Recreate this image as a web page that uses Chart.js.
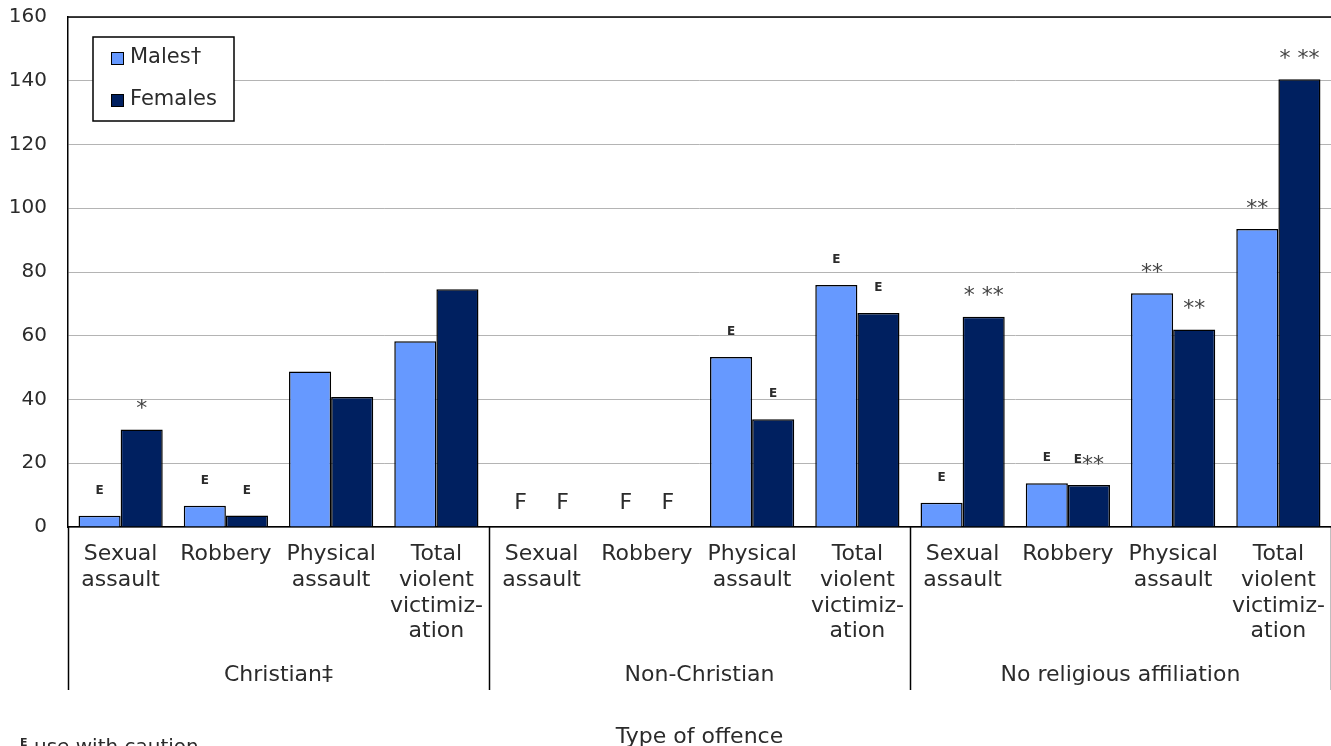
<!DOCTYPE html>
<html>
<head>
<meta charset="utf-8">
<script src="https://cdn.jsdelivr.net/npm/chart.js@4/dist/chart.umd.min.js"></script>
<style>
  body { margin: 0; background: #fff; }
  #wrap { width: 1331px; height: 746px; position: relative; }
</style>
</head>
<body>
<div id="wrap"><canvas id="myChart"></canvas></div>
<script>
// offence types repeat inside each religion group
var offenceTypes = [['Sexual', 'assault'], ['Robbery'], ['Physical', 'assault'], ['Total', 'violent', 'victimiz-', 'ation']];
var groups = ['Christian‡', 'Non-Christian', 'No religious affiliation'];

// rate per 1,000 population (F = too unreliable to be published)
var males   = [3.5, 6.7, 48.8, 58.3, null, null, 53.3, 75.9, 7.6, 13.7, 73.3, 93.5];
var females = [30.6, 3.6, 40.8, 74.6, null, null, 33.8, 67.1, 66.0, 13.2, 62.0, 140.5];

var malesNotes   = ['E', 'E', '', '', 'F', 'F', 'E', 'E', 'E', 'E', '**', '**'];
var femalesNotes = ['*', 'E', '', '', 'F', 'F', 'E', 'E', '* **', 'E**', '**', '* **'];

var yTicks = [0, 20, 40, 60, 80, 100, 120, 140, 160];

var labels = [];
groups.forEach(function (g) {
    offenceTypes.forEach(function (t) { labels.push(t); });
});

var FONT = 'DejaVu Sans';
var textColor = '#2b2b2b';

function drawNote(ctx, text, cx, cy) {
    // split into runs: small E, big F / asterisks / spaces
    var pieces = [];
    for (var i = 0; i < text.length; i++) {
        var ch = text[i];
        var font = ch === 'E' ? 'bold 12px ' + FONT : '22px ' + FONT;
        ctx.font = font;
        pieces.push({ ch: ch, font: font, w: ctx.measureText(ch).width });
    }
    var total = pieces.reduce(function (s, p) { return s + p.w; }, 0);
    var x = cx - total / 2;
    ctx.textAlign = 'left';
    ctx.textBaseline = 'middle';
    pieces.forEach(function (p) {
        ctx.font = p.font;
        ctx.fillStyle = p.ch === '*' ? '#444' : textColor;
        var dy = p.ch === '*' ? 5 : 0;
        ctx.fillText(p.ch, x, cy + dy);
        x += p.w;
    });
}

var extras = {
    id: 'extras',
    afterDatasetsDraw: function (chart) {
        var ctx = chart.ctx;
        var yScale = chart.scales.y;
        var base = yScale.getPixelForValue(0);
        var notes = [malesNotes, femalesNotes];
        ctx.save();
        chart.data.datasets.forEach(function (ds, di) {
            var meta = chart.getDatasetMeta(di);
            meta.data.forEach(function (bar, i) {
                var t = notes[di][i];
                if (!t) return;
                var v = ds.data[i];
                var top = (v === null) ? base : yScale.getPixelForValue(v);
                drawNote(ctx, t, bar.x, top - (v === null ? 24 : 25));
            });
        });
        ctx.restore();
    },
    afterDraw: function (chart) {
        var ctx = chart.ctx;
        var area = chart.chartArea;
        var xScale = chart.scales.x;
        var step = xScale.getPixelForValue(1) - xScale.getPixelForValue(0);
        ctx.save();

        // top border of plot
        ctx.strokeStyle = '#000';
        ctx.lineWidth = 1.5;
        ctx.beginPath();
        ctx.moveTo(area.left, area.top);
        ctx.lineTo(area.right, area.top);
        ctx.stroke();

        // group dividers and group labels
        var n = offenceTypes.length;
        ctx.font = '22px ' + FONT;
        ctx.fillStyle = textColor;
        ctx.textAlign = 'center';
        ctx.textBaseline = 'middle';
        for (var g = 0; g <= groups.length; g++) {
            var idx = g * n;
            var xl = xScale.getPixelForValue(Math.min(idx, labels.length - 1)) + (idx >= labels.length ? step / 2 : -step / 2);
            ctx.beginPath();
            ctx.moveTo(Math.round(xl) + 0.5, area.bottom);
            ctx.lineTo(Math.round(xl) + 0.5, 690);
            ctx.stroke();
            if (g < groups.length) {
                var c0 = xScale.getPixelForValue(idx);
                var c1 = xScale.getPixelForValue(idx + n - 1);
                ctx.fillText(groups[g], (c0 + c1) / 2, 675);
            }
        }

        // axis title
        ctx.fillText('Type of offence', (area.left + area.right) / 2, 737);

        // footnote
        ctx.textAlign = 'left';
        ctx.textBaseline = 'top';
        ctx.font = 'bold 11px ' + FONT;
        ctx.fillText('E', 20, 738);
        ctx.font = '20px ' + FONT;
        ctx.fillText('use with caution', 34, 738);

        // legend box
        var lx = 93, ly = 37, lw = 141, lh = 84;
        ctx.fillStyle = '#fff';
        ctx.fillRect(lx, ly, lw, lh);
        ctx.strokeStyle = '#000';
        ctx.lineWidth = 1.5;
        ctx.strokeRect(lx, ly, lw, lh);
        chart.data.datasets.forEach(function (ds, di) {
            var cy = 58 + di * 42;
            ctx.fillStyle = ds.backgroundColor;
            ctx.fillRect(111, cy - 6, 13, 13);
            ctx.lineWidth = 1;
            ctx.strokeRect(111.5, cy - 5.5, 12, 12);
            ctx.fillStyle = textColor;
            ctx.font = '21px ' + FONT;
            ctx.textBaseline = 'middle';
            ctx.fillText(ds.label, 130, cy);
        });
        ctx.restore();
    }
};

var ctx = document.getElementById('myChart').getContext('2d');
var myChart = new Chart(ctx, {
    type: 'bar',
    data: {
        labels: labels,
        datasets: [{
            label: 'Males†',
            data: males,
            backgroundColor: '#6699ff',
            borderColor: '#000',
            borderWidth: 1.5
        }, {
            label: 'Females',
            data: females,
            backgroundColor: '#002060',
            borderColor: '#000',
            borderWidth: 1.5
        }]
    },
    options: {
        responsive: true,
        maintainAspectRatio: false,
        animation: false,
        layout: { padding: { top: 17, right: 0, left: 0, bottom: 0 } },
        plugins: {
            legend: { display: false },
            tooltip: { enabled: false }
        },
        datasets: {
            bar: { categoryPercentage: 0.8, barPercentage: 1.0 }
        },
        scales: {
            x: {
                grid: { display: false, drawTicks: false },
                border: { display: true, color: '#000', width: 1.5 },
                ticks: {
                    autoSkip: false,
                    maxRotation: 0,
                    minRotation: 0,
                    padding: 15,
                    color: textColor,
                    font: { family: FONT, size: 22, lineHeight: 1.16 }
                },
                afterFit: function (scale) {
                    scale.height = 219;
                    scale.paddingLeft = 0;
                    scale.paddingRight = 0;
                }
            },
            y: {
                min: yTicks[0],
                max: yTicks[yTicks.length - 1],
                afterBuildTicks: function (scale) {
                    scale.ticks = yTicks.map(function (v) { return { value: v }; });
                },
                grid: { color: '#b4b4b4', lineWidth: 1, drawTicks: false },
                border: { display: true, color: '#000', width: 1.5 },
                ticks: {
                    padding: 21,
                    color: textColor,
                    font: { family: FONT, size: 20 }
                },
                afterFit: function (scale) {
                    scale.width = 68;
                    scale.paddingTop = 0;
                    scale.paddingBottom = 0;
                }
            }
        }
    },
    plugins: [extras]
});
</script>
</body>
</html>
